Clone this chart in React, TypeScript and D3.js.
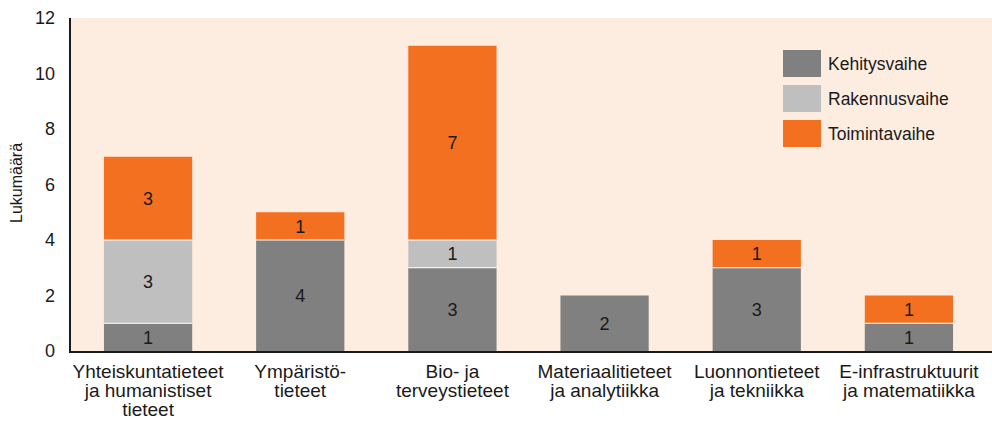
import React from "react";
import * as d3 from "d3";

const categories = [
  ["Yhteiskuntatieteet", "ja humanistiset", "tieteet"],
  ["Ympäristö-", "tieteet"],
  ["Bio- ja", "terveystieteet"],
  ["Materiaalitieteet", "ja analytiikka"],
  ["Luonnontieteet", "ja tekniikka"],
  ["E-infrastruktuurit", "ja matematiikka"],
];
const seriesNames = ["Kehitysvaihe", "Rakennusvaihe", "Toimintavaihe"];
const kehitys = [1, 4, 3, 2, 3, 1];
const rakennus = [3, 0, 1, 0, 0, 0];
const toiminta = [3, 1, 7, 0, 1, 1];
const colors = ["#808080", "#BFBFBF", "#F37021"];
const yTicks = [0, 2, 4, 6, 8, 10, 12];

const W = 992, H = 423;
const left = 70, right = 992, top = 18, bottom = 351;
const font = "'Liberation Sans', Arial, sans-serif";
const ink = "#1a1a1a";

export default function App() {
  const keys = categories.map((_, i) => String(i));
  const x = d3.scaleBand().domain(keys).range([left + 2, 985]).paddingInner(0.42).paddingOuter(0.21);
  const y = d3.scaleLinear().domain([0, 12]).range([bottom, top]);
  const rows = keys.map((k, i) => ({ k, s0: kehitys[i], s1: rakennus[i], s2: toiminta[i] }));
  const stack = d3.stack<any>().keys(["s0", "s1", "s2"]);
  const layers = stack(rows);
  return (
    <svg width={W} height={H} style={{ position: "absolute", left: 0, top: 0 }}>
      <rect x={left} y={top} width={right - left} height={bottom - top} fill="#FDEDE0" />
      {layers.map((layer, li) =>
        layer.map((d, i) => {
          const v = d[1] - d[0];
          if (v <= 0) return null;
          const y0 = y(d[0]), y1 = y(d[1]);
          const cx = x(keys[i])! + x.bandwidth() / 2;
          return (
            <g key={li + "-" + i}>
              <rect x={x(keys[i])} y={y1} width={x.bandwidth()} height={y0 - y1} fill={colors[li]} />
              {d[0] > 0 && (
                <line x1={x(keys[i])} x2={x(keys[i])! + x.bandwidth()} y1={y0} y2={y0} stroke="#ffffff" strokeWidth={1.2} />
              )}
              <text x={cx} y={(y0 + y1) / 2} dy="0.36em" textAnchor="middle" fontFamily={font} fontSize={18} fill={ink}>{v}</text>
            </g>
          );
        })
      )}
      <line x1={left} y1={top} x2={left} y2={bottom + 1} stroke={ink} strokeWidth={2} />
      <line x1={left - 1} y1={bottom + 1} x2={right} y2={bottom + 1} stroke={ink} strokeWidth={2} />
      {yTicks.map((t) => (
        <text key={t} x={55} y={y(t)} dy="0.36em" textAnchor="end" fontFamily={font} fontSize={18} fill={ink}>{t}</text>
      ))}
      <text transform={`translate(22,${183}) rotate(-90)`} textAnchor="middle" fontFamily={font} fontSize={16} fill={ink}>Lukumäärä</text>
      {categories.map((lines, i) => {
        const cx = x(keys[i])! + x.bandwidth() / 2;
        return (
          <g key={i}>
            {lines.map((l, j) => (
              <text key={j} x={cx} y={378 + j * 19} textAnchor="middle" fontFamily={font} fontSize={19} fill={ink}>{l}</text>
            ))}
          </g>
        );
      })}
      {seriesNames.map((n, i) => (
        <g key={n} transform={`translate(783,${50 + i * 35})`}>
          <rect width={38} height={27} fill={colors[i]} />
          <text x={45} y={13.5} dy="0.36em" fontFamily={font} fontSize={17.5} fill={ink}>{n}</text>
        </g>
      ))}
    </svg>
  );
}
